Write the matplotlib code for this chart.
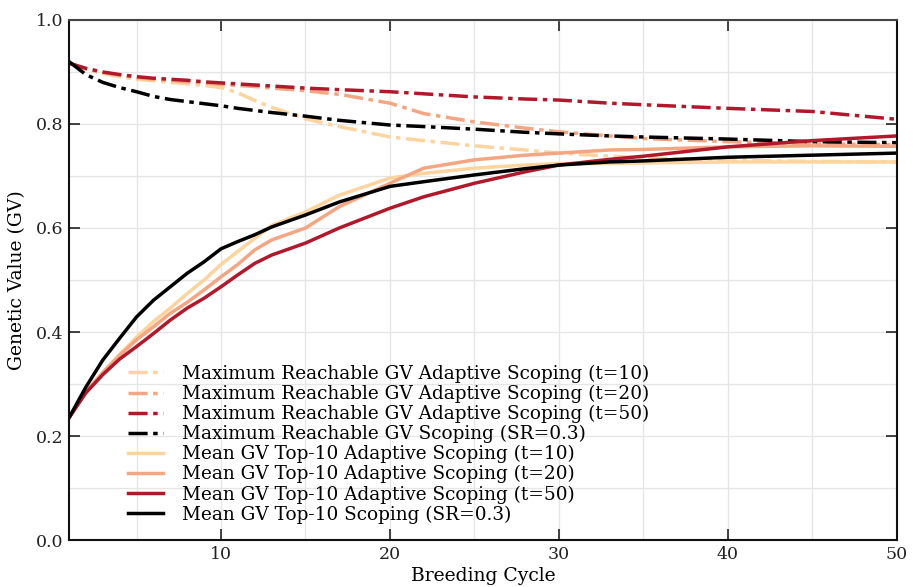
import matplotlib
matplotlib.use("Agg")
import matplotlib.pyplot as plt
from matplotlib.ticker import MultipleLocator

plt.rcParams['font.family'] = ['DejaVu Serif']

cycles = [1, 2, 3, 4, 5, 6, 7, 8, 9, 10, 11, 12, 13, 15, 17, 20, 22, 25, 28, 30, 33, 35, 40, 45, 50]

max_ad10 = [0.917, 0.905, 0.897, 0.891, 0.886, 0.883, 0.880, 0.877, 0.874, 0.870, 0.860, 0.845, 0.832,
            0.810, 0.795, 0.775, 0.768, 0.758, 0.750, 0.744, 0.738, 0.735, 0.730, 0.728, 0.727]
max_ad20 = [0.917, 0.906, 0.899, 0.894, 0.889, 0.886, 0.884, 0.881, 0.879, 0.876, 0.874, 0.872, 0.869,
            0.864, 0.857, 0.840, 0.820, 0.804, 0.792, 0.785, 0.777, 0.772, 0.766, 0.762, 0.760]
max_ad50 = [0.917, 0.907, 0.900, 0.895, 0.891, 0.888, 0.886, 0.884, 0.881, 0.879, 0.877, 0.875, 0.873,
            0.869, 0.866, 0.862, 0.858, 0.852, 0.848, 0.846, 0.840, 0.837, 0.830, 0.824, 0.809]
max_sr = [0.920, 0.895, 0.880, 0.870, 0.862, 0.853, 0.847, 0.843, 0.839, 0.835, 0.830, 0.826, 0.822,
          0.815, 0.807, 0.798, 0.795, 0.790, 0.784, 0.781, 0.777, 0.775, 0.771, 0.766, 0.764]

mean_ad10 = [0.235, 0.285, 0.322, 0.357, 0.390, 0.420, 0.446, 0.474, 0.500, 0.530, 0.555, 0.580, 0.605,
             0.631, 0.663, 0.696, 0.705, 0.715, 0.721, 0.724, 0.724, 0.725, 0.727, 0.727, 0.727]
mean_ad20 = [0.235, 0.285, 0.322, 0.355, 0.385, 0.410, 0.436, 0.457, 0.481, 0.506, 0.530, 0.558, 0.577,
             0.600, 0.641, 0.686, 0.715, 0.731, 0.740, 0.744, 0.750, 0.751, 0.756, 0.758, 0.757]
mean_ad50 = [0.235, 0.283, 0.318, 0.348, 0.372, 0.397, 0.423, 0.446, 0.465, 0.487, 0.510, 0.532, 0.548,
             0.571, 0.600, 0.638, 0.660, 0.686, 0.708, 0.721, 0.732, 0.738, 0.756, 0.768, 0.777]
mean_sr = [0.235, 0.294, 0.346, 0.388, 0.429, 0.461, 0.487, 0.513, 0.535, 0.560, 0.574, 0.587, 0.602,
           0.625, 0.650, 0.680, 0.689, 0.702, 0.714, 0.721, 0.727, 0.729, 0.736, 0.740, 0.744]

labels = [
    "Maximum Reachable GV Adaptive Scoping (t=10)",
    "Maximum Reachable GV Adaptive Scoping (t=20)",
    "Maximum Reachable GV Adaptive Scoping (t=50)",
    "Maximum Reachable GV Scoping (SR=0.3)",
    "Mean GV Top-10 Adaptive Scoping (t=10)",
    "Mean GV Top-10 Adaptive Scoping (t=20)",
    "Mean GV Top-10 Adaptive Scoping (t=50)",
    "Mean GV Top-10 Scoping (SR=0.3)",
]
colors = ["#fdd49e", "#f4a582", "#b2182b", "#000000"]

fig = plt.figure(figsize=(9.17, 5.87), dpi=100)
ax = fig.add_axes([0.0752, 0.080, 0.9028, 0.886])

dd = (0, (5.5, 1.6, 1.3, 1.6))
lw = 2.5
for ys, c, lab in zip([max_ad10, max_ad20, max_ad50, max_sr], colors, labels[:4]):
    ax.plot(cycles, ys, color=c, lw=lw, linestyle=dd, label=lab)
for ys, c, lab in zip([mean_ad10, mean_ad20, mean_ad50, mean_sr], colors, labels[4:]):
    ax.plot(cycles, ys, color=c, lw=lw, linestyle='-', label=lab)

ax.set_xlim(1, 50)
ax.set_ylim(0, 1.0)
ax.xaxis.set_major_locator(MultipleLocator(10))
ax.xaxis.set_minor_locator(MultipleLocator(5))
ax.yaxis.set_major_locator(MultipleLocator(0.2))
ax.yaxis.set_minor_locator(MultipleLocator(0.1))
ax.grid(True, which='both', color='#e6e6e6', lw=1.0)
ax.set_axisbelow(True)
ax.tick_params(which='major', direction='in', length=8, width=1.2, top=True, right=True,
               labelsize=12.5, colors='#222222', labelcolor='#222222', pad=4)
ax.tick_params(which='minor', length=0, top=True, right=True)
ax.set_yticks([0.0, 0.2, 0.4, 0.6, 0.8, 1.0])
ax.set_yticklabels(["0.0", "0.2", "0.4", "0.6", "0.8", "1.0"])
for s in ax.spines.values():
    s.set_linewidth(1.5)
    s.set_color('#111111')
ax.spines['top'].set_color('#444444')

ax.set_xlabel("Breeding Cycle", fontsize=13.5, labelpad=3)
ax.set_ylabel("Genetic Value (GV)", fontsize=13.5, labelpad=7)

ax.legend(loc='upper left', bbox_to_anchor=(0.056, 0.362), frameon=False, fontsize=13.3,
          handlelength=1.9, handletextpad=1.0, labelspacing=0.1, borderpad=0.2)

fig.savefig("out.png", dpi=100)
